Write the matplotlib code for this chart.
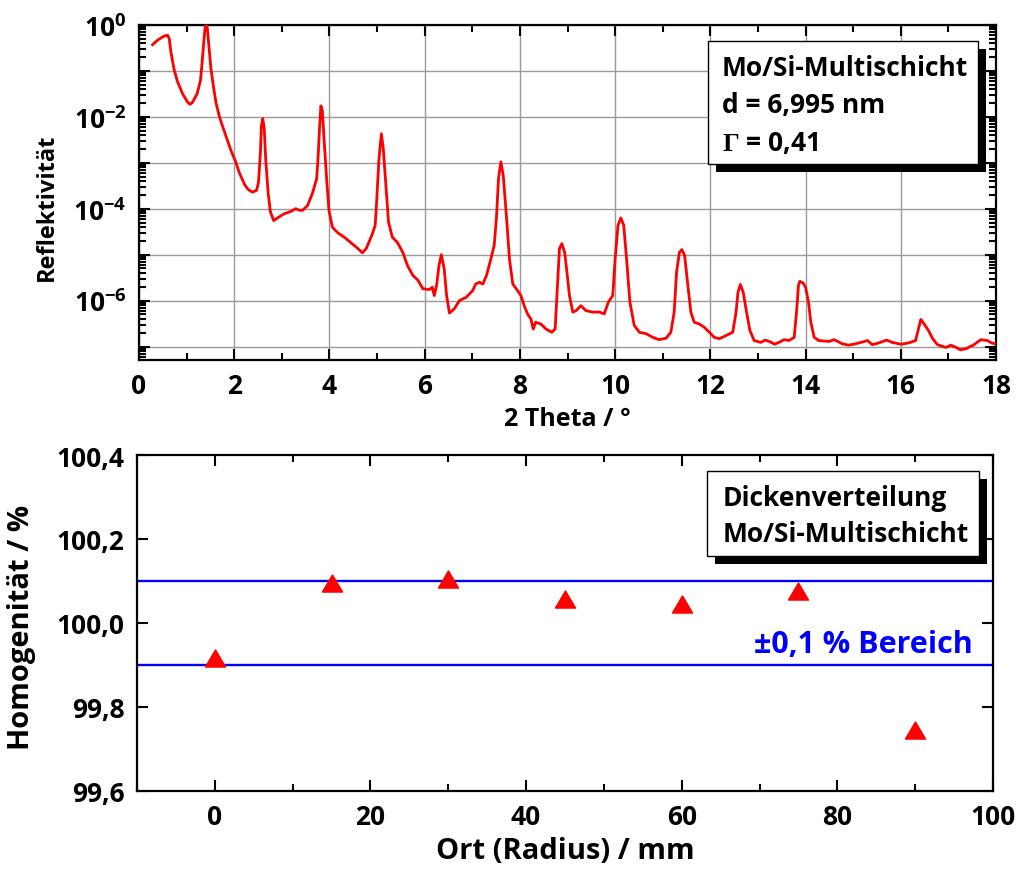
import numpy as np
import matplotlib
matplotlib.use('Agg')
import matplotlib.pyplot as plt
from matplotlib.path import Path
from matplotlib.patches import Rectangle
from matplotlib.ticker import FixedLocator, MultipleLocator, NullLocator

plt.rcParams['font.family'] = ['Open Sans', 'DejaVu Sans']
plt.rcParams['font.weight'] = 'bold'
plt.rcParams['axes.labelweight'] = 'bold'
plt.rcParams['mathtext.fontset'] = 'custom'
plt.rcParams['mathtext.rm'] = 'Open Sans:bold'
plt.rcParams['mathtext.it'] = 'Open Sans:bold'
plt.rcParams['mathtext.bf'] = 'Open Sans:bold'
plt.rcParams['mathtext.sf'] = 'Liberation Serif'

# reflectivity curve (2 theta in deg, log10 of reflectivity)
theta = [0.285, 0.39, 0.53, 0.60, 0.635, 0.67, 0.74, 0.81, 0.915, 1.02, 1.07, 1.125,
         1.22, 1.29, 1.32, 1.36, 1.39, 1.43, 1.46, 1.51, 1.57, 1.62, 1.69, 1.75,
         1.82, 1.93, 2.03, 2.10, 2.21, 2.28, 2.38, 2.47, 2.51, 2.55, 2.57, 2.60,
         2.63, 2.66, 2.71, 2.76, 2.83, 2.91, 3.05, 3.19, 3.29, 3.36, 3.43, 3.54,
         3.64, 3.73, 3.76, 3.79, 3.82, 3.85, 3.89, 3.94, 3.99, 4.06, 4.17, 4.31,
         4.45, 4.52, 4.60, 4.69, 4.77, 4.89, 4.96, 4.99, 5.04, 5.09, 5.13, 5.19,
         5.24, 5.32, 5.43, 5.54, 5.64, 5.75, 5.86, 5.96, 6.10, 6.16, 6.20, 6.25,
         6.30, 6.35, 6.41, 6.46, 6.52, 6.62, 6.73, 6.87, 7.01, 7.07, 7.15, 7.22,
         7.30, 7.39, 7.46, 7.51, 7.55, 7.60, 7.65, 7.71, 7.78, 7.85, 7.95, 8.02,
         8.09, 8.16, 8.23, 8.28, 8.33, 8.44, 8.55, 8.67, 8.74, 8.79, 8.83, 8.88,
         8.94, 8.99, 9.04, 9.11, 9.18, 9.28, 9.39, 9.53, 9.67, 9.77, 9.86, 9.95,
         10.00, 10.06, 10.12, 10.18, 10.24, 10.31, 10.40, 10.51, 10.65, 10.79, 10.92, 11.07,
         11.17, 11.24, 11.29, 11.35, 11.40, 11.46, 11.52, 11.59, 11.66, 11.77, 11.87, 11.98,
         12.08, 12.19, 12.33, 12.47, 12.54, 12.58, 12.63, 12.69, 12.76, 12.83, 12.92, 13.06,
         13.15, 13.24, 13.35, 13.44, 13.55, 13.65, 13.76, 13.81, 13.85, 13.88, 13.95, 14.00,
         14.06, 14.11, 14.18, 14.28, 14.49, 14.60, 14.77, 14.90, 15.05, 15.20, 15.30, 15.40,
         15.54, 15.70, 15.82, 16.00, 16.17, 16.31, 16.37, 16.42, 16.49, 16.58, 16.67, 16.77,
         16.95, 17.05, 17.16, 17.25, 17.37, 17.45, 17.51, 17.68, 17.82, 17.90, 17.98]
log_refl = [-0.43, -0.33, -0.24, -0.225, -0.30, -0.59, -0.99, -1.24, -1.50, -1.68, -1.73, -1.68,
            -1.50, -1.21, -0.88, -0.37, -0.02, -0.02, -0.37, -0.95, -1.39, -1.71, -2.00, -2.19,
            -2.40, -2.73, -2.98, -3.20, -3.46, -3.57, -3.64, -3.60, -3.42, -2.77, -2.19, -2.04,
            -2.26, -2.91, -3.64, -4.07, -4.26, -4.20, -4.11, -4.06, -4.00, -4.03, -4.04, -3.93,
            -3.67, -3.35, -2.91, -2.26, -1.76, -1.86, -2.55, -3.35, -4.04, -4.40, -4.52, -4.62,
            -4.74, -4.80, -4.87, -4.96, -4.87, -4.58, -4.36, -3.86, -2.91, -2.37, -2.69, -3.57,
            -4.29, -4.62, -4.74, -4.95, -5.24, -5.45, -5.56, -5.74, -5.76, -5.71, -5.89, -5.67,
            -5.24, -5.00, -5.31, -5.89, -6.27, -6.18, -6.00, -5.93, -5.78, -5.64, -5.60, -5.64,
            -5.45, -5.09, -4.80, -4.15, -3.35, -2.98, -3.28, -4.07, -5.09, -5.64, -5.78, -5.89,
            -6.11, -6.29, -6.40, -6.62, -6.47, -6.51, -6.62, -6.69, -6.62, -5.67, -4.87, -4.76,
            -4.95, -5.40, -5.89, -6.25, -6.22, -6.11, -6.22, -6.25, -6.25, -6.29, -6.03, -5.89,
            -5.09, -4.36, -4.20, -4.36, -5.09, -6.03, -6.54, -6.69, -6.72, -6.80, -6.85, -6.82,
            -6.69, -6.25, -5.38, -4.95, -4.89, -5.02, -5.60, -6.25, -6.47, -6.51, -6.58, -6.69,
            -6.80, -6.83, -6.76, -6.69, -6.25, -5.82, -5.65, -5.82, -6.25, -6.65, -6.87, -6.91,
            -6.86, -6.89, -6.95, -6.91, -6.85, -6.87, -6.80, -6.25, -5.67, -5.58, -5.62, -5.71,
            -6.03, -6.47, -6.80, -6.87, -6.89, -6.85, -6.94, -6.97, -6.94, -6.90, -6.87, -6.96,
            -6.92, -6.86, -6.91, -6.95, -6.92, -6.87, -6.62, -6.41, -6.51, -6.65, -6.83, -6.96,
            -7.02, -6.97, -7.02, -7.07, -7.05, -7.00, -6.98, -6.85, -6.87, -6.92, -6.94]

refl_ticks = [1e0, 1e-1, 1e-2, 1e-3, 1e-4, 1e-5, 1e-6, 1e-7]
refl_labels = ['$10^{0}$', '', '$10^{-2}$', '', '$10^{-4}$', '', '$10^{-6}$', '']

# thickness distribution
radius = [0, 15, 30, 45, 60, 75, 90]
homogen = [99.915, 100.094, 100.105, 100.056, 100.045, 100.075, 99.745]
band = [99.9, 100.1]
homogen_ticks = [99.6, 99.8, 100.0, 100.2, 100.4]
homogen_labels = ['99,6', '99,8', '100,0', '100,2', '100,4']

fig = plt.figure(figsize=(10.26, 8.7), dpi=100)
ax1 = fig.add_axes([0.1355, 0.5851, 0.8353, 0.3851])
ax2 = fig.add_axes([0.1335, 0.0902, 0.8343, 0.3856])


def style_axes(ax):
    for s in ax.spines.values():
        s.set_linewidth(1.6)
    ax.tick_params(which='both', direction='in', top=True, right=True,
                   labelsize=19, width=1.5, pad=9)
    ax.tick_params(which='major', length=8)
    ax.tick_params(which='minor', length=5)


def text_box(ax, x0, y0, x1, y1):
    # shadow offset 8 px right/down
    fw = ax.get_position().width * fig.get_figwidth() * fig.dpi
    fh = ax.get_position().height * fig.get_figheight() * fig.dpi
    dx, dy = 8 / fw, 8 / fh
    ax.add_patch(Rectangle((x0 + dx, y0 - dy), x1 - x0, y1 - y0, transform=ax.transAxes,
                           fc='black', ec='black', lw=0, zorder=4))
    ax.add_patch(Rectangle((x0, y0), x1 - x0, y1 - y0, transform=ax.transAxes,
                           fc='white', ec='black', lw=1.0, zorder=5))


# top panel
ax1.plot(theta, 10 ** np.array(log_refl), color='red', lw=2.0, zorder=3)
ax1.set_yscale('log')
ax1.set_xlim(0, 18)
ax1.set_ylim(5.1e-8, 1.0)
ax1.xaxis.set_major_locator(MultipleLocator(2))
ax1.xaxis.set_minor_locator(MultipleLocator(1))
ax1.yaxis.set_major_locator(FixedLocator(refl_ticks))
ax1.set_yticklabels(refl_labels)
ax1.yaxis.set_minor_locator(FixedLocator(
    [m * 10.0 ** e for e in range(-8, 0) for m in range(2, 10)]))
ax1.grid(True, which='major', color='#9a9a9a', lw=1.0)
style_axes(ax1)
ax1.set_xlabel('2 Theta / °', fontsize=18, labelpad=5)
ax1.set_ylabel('Reflektivität', fontsize=17)
ax1.yaxis.set_label_coords(-0.094, 0.46)

text_box(ax1, 0.664, 0.585, 0.979, 0.952)
ax1.text(0.680, 0.851, 'Mo/Si-Multischicht', transform=ax1.transAxes, fontsize=19,
         va='baseline', zorder=6)
ax1.text(0.680, 0.740, 'd = 6,995 nm', transform=ax1.transAxes, fontsize=19,
         va='baseline', zorder=6)
ax1.text(0.680, 0.627, r'$\mathsf{\Gamma}$ = 0,41', transform=ax1.transAxes, fontsize=19,
         va='baseline', zorder=6)

# bottom panel
tri = Path([(-1, -0.85), (1, -0.85), (0, 0.85), (-1, -0.85)])
for b in band:
    ax2.axhline(b, color='blue', lw=1.7, zorder=2)
ax2.plot(radius, homogen, ls='none', marker=tri, ms=14.5, color='red', zorder=3)
ax2.set_xlim(-10, 100)
ax2.set_ylim(99.6, 100.4)
ax2.xaxis.set_major_locator(MultipleLocator(20))
ax2.xaxis.set_minor_locator(MultipleLocator(10))
ax2.yaxis.set_major_locator(FixedLocator(homogen_ticks))
ax2.set_yticklabels(homogen_labels)
ax2.yaxis.set_minor_locator(NullLocator())
style_axes(ax2)
ax2.set_xlabel('Ort (Radius) / mm', fontsize=21, labelpad=4)
ax2.set_ylabel('Homogenität / %', fontsize=21)
ax2.yaxis.set_label_coords(-0.118, 0.49)

text_box(ax2, 0.666, 0.699, 0.984, 0.952)
ax2.text(0.684, 0.851, 'Dickenverteilung', transform=ax2.transAxes, fontsize=19,
         va='baseline', zorder=6)
ax2.text(0.684, 0.745, 'Mo/Si-Multischicht', transform=ax2.transAxes, fontsize=19,
         va='baseline', zorder=6)
ax2.text(0.976, 0.413, '±0,1 % Bereich', transform=ax2.transAxes, fontsize=22,
         color='blue', ha='right', va='baseline', zorder=6)

fig.savefig('out.png', dpi=100)
